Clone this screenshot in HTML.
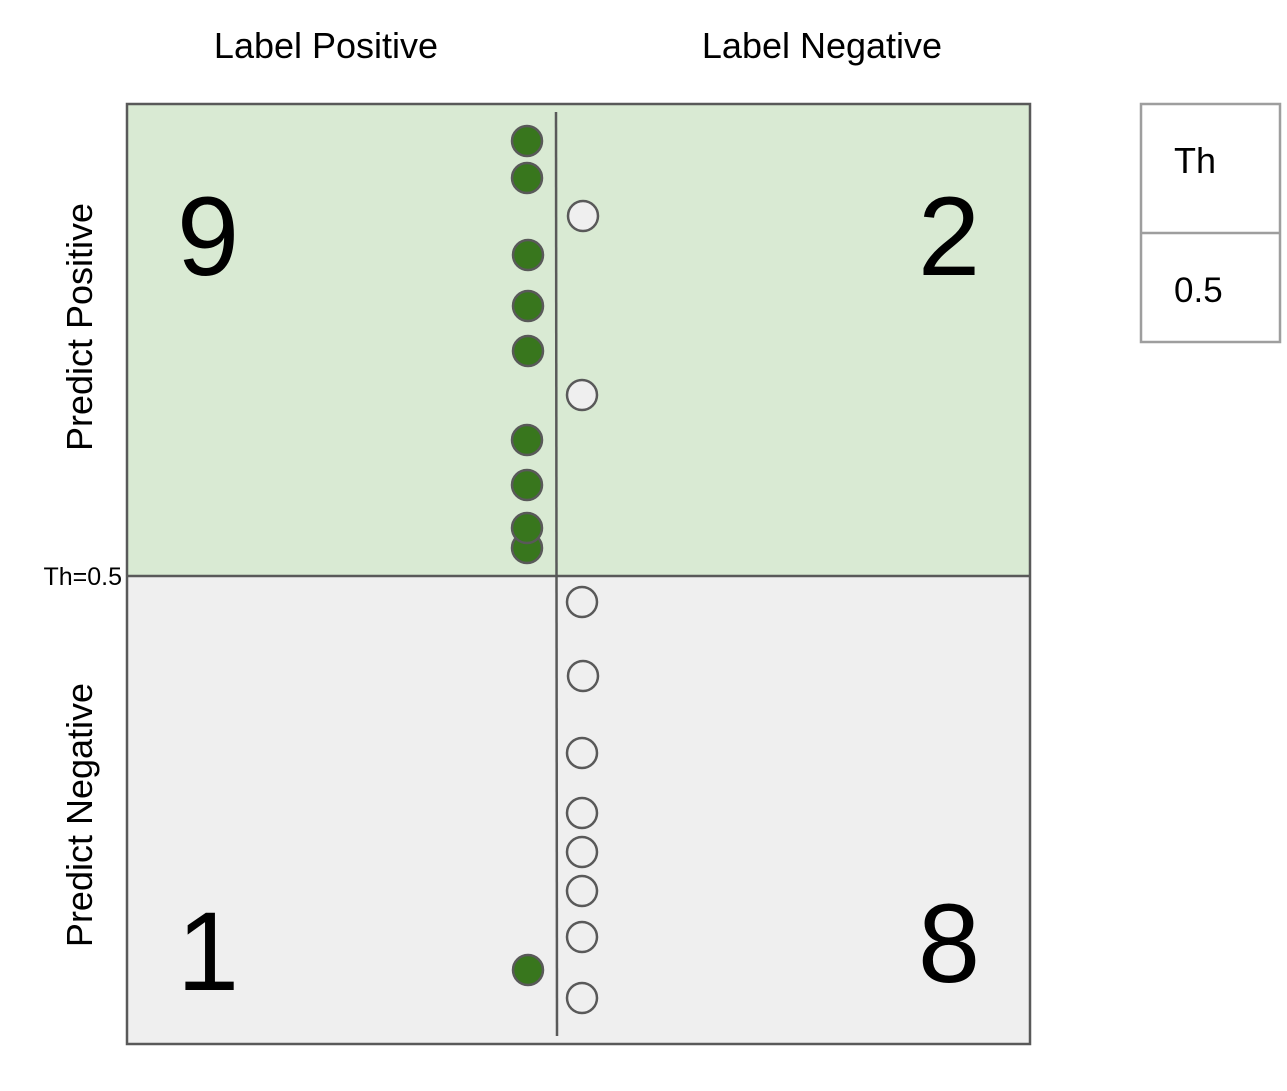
<!DOCTYPE html>
<html><head><meta charset="utf-8"><style>body{margin:0;background:#fff}</style></head>
<body>
<svg width="1287" height="1086" xmlns="http://www.w3.org/2000/svg" font-family="Liberation Sans, sans-serif">
<rect x="127" y="104" width="903" height="472" fill="#d9ead3"/>
<rect x="127" y="576" width="903" height="468" fill="#efefef"/>
<rect x="127" y="104" width="903" height="940" fill="none" stroke="#595959" stroke-width="2.5"/>
<line x1="127" y1="576" x2="1030" y2="576" stroke="#595959" stroke-width="2.5"/>
<line x1="556" y1="112" x2="557" y2="1036" stroke="#595959" stroke-width="2.5"/>
<g fill="#38761d" stroke="#595959" stroke-width="2.5">
<circle cx="527" cy="141" r="15"/><circle cx="527" cy="178" r="15"/><circle cx="528" cy="255" r="15"/>
<circle cx="528" cy="306" r="15"/><circle cx="528" cy="351" r="15"/><circle cx="527" cy="440" r="15"/>
<circle cx="527" cy="485" r="15"/><circle cx="527" cy="548" r="15"/><circle cx="527" cy="528" r="15"/>
<circle cx="528" cy="970" r="15"/>
</g>
<g fill="#efefef" stroke="#595959" stroke-width="2.5">
<circle cx="583" cy="216" r="15"/><circle cx="582" cy="395" r="15"/><circle cx="582" cy="602" r="15"/>
<circle cx="583" cy="676" r="15"/><circle cx="582" cy="753" r="15"/><circle cx="582" cy="813" r="15"/>
<circle cx="582" cy="852" r="15"/><circle cx="582" cy="891" r="15"/><circle cx="582" cy="937" r="15"/>
<circle cx="582" cy="998" r="15"/>
</g>
<g font-size="112" fill="#000" text-anchor="middle">
<text x="208" y="275">9</text><text x="949" y="275">2</text>
<text x="208" y="990">1</text><text x="949" y="982">8</text>
</g>
<g font-size="36" fill="#000" text-anchor="middle">
<text x="326" y="58">Label Positive</text><text x="822" y="58">Label Negative</text>
<text transform="translate(92,327) rotate(-90)">Predict Positive</text>
<text transform="translate(92,815) rotate(-90)">Predict Negative</text>
</g>
<text x="122" y="585" font-size="25" text-anchor="end">Th=0.5</text>
<rect x="1141" y="104" width="139" height="238" fill="#fff" stroke="#9e9e9e" stroke-width="2.5"/>
<line x1="1141" y1="233" x2="1280" y2="233" stroke="#9e9e9e" stroke-width="2.5"/>
<text x="1174" y="173" font-size="36">Th</text>
<text x="1174" y="302" font-size="35">0.5</text>
</svg>
</body></html>
